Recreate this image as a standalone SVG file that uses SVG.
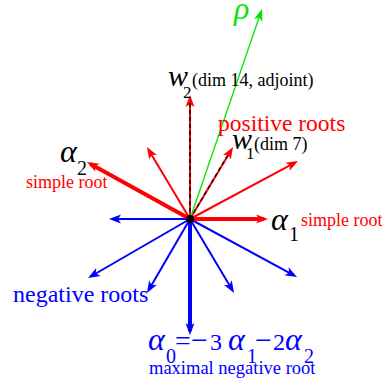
<svg xmlns="http://www.w3.org/2000/svg" width="387" height="382" viewBox="0 0 387 382">
<style>
.r{stroke:#ff0000;fill:none}
.b{stroke:#0000ff;fill:none}
.thin{stroke-width:2}
.thick{stroke-width:4}
.t{font-family:"Liberation Serif","Times New Roman",serif}
.m{font-family:"Liberation Serif","DejaVu Serif","Times New Roman",serif;font-style:italic}
</style>
<defs>
<marker id="ar" markerUnits="userSpaceOnUse" viewBox="-10 -6 16 12" markerWidth="16" markerHeight="12" refX="0" refY="0" orient="auto" overflow="visible"><path d="M4,0 L-8,-4.5 L-5,0 L-8,4.5 Z" fill="#ff0000"/></marker>
<marker id="ab" markerUnits="userSpaceOnUse" viewBox="-10 -6 16 12" markerWidth="16" markerHeight="12" refX="0" refY="0" orient="auto" overflow="visible"><path d="M4,0 L-8,-4.5 L-5,0 L-8,4.5 Z" fill="#0000ff"/></marker>
<marker id="ag" markerUnits="userSpaceOnUse" viewBox="-10 -6 16 12" markerWidth="16" markerHeight="12" refX="0" refY="0" orient="auto" overflow="visible"><path d="M4,0 L-8,-4.5 L-5,0 L-8,4.5 Z" fill="#00e600"/></marker>
</defs>
<g id="connectors">
<g id="negative">
<line class="b thin" x1="190" y1="219" x2="113" y2="219" marker-end="url(#ab)"/>
<line class="b thin" x1="190" y1="219" x2="91.5" y2="276" marker-end="url(#ab)"/>
<line class="b thin" x1="190" y1="219" x2="149" y2="289.5" marker-end="url(#ab)"/>
<line class="b thick" x1="190" y1="219" x2="190" y2="331" marker-end="url(#ab)"/>
<line class="b thin" x1="190" y1="219" x2="232" y2="289.5" marker-end="url(#ab)"/>
<line class="b thin" x1="190" y1="219" x2="293.5" y2="275.1" marker-end="url(#ab)"/>
</g>
<g id="positive">
<line class="r thick" x1="190" y1="219" x2="264" y2="219" marker-end="url(#ar)"/>
<line class="r thick" x1="190" y1="219" x2="90.5" y2="163.9" marker-end="url(#ar)"/>
<line class="r thin" x1="190" y1="219" x2="149" y2="150.4" marker-end="url(#ar)"/>
<line class="r thin" x1="190" y1="219" x2="190" y2="99" marker-end="url(#ar)"/>
<line class="r thin" x1="190" y1="219" x2="231" y2="150.4" marker-end="url(#ar)"/>
<line class="r thin" x1="190" y1="219" x2="294.5" y2="162.9" marker-end="url(#ar)"/>
</g>
<g id="weights" stroke="#000" stroke-width="1.3" stroke-dasharray="4,3" fill="none">
<line x1="190" y1="219" x2="190" y2="101"/>
<line x1="190" y1="219" x2="229" y2="153"/>
</g>
<line id="rho-arrow" x1="190" y1="219" x2="260.7" y2="12.8" stroke="#00e600" stroke-width="1.3" marker-end="url(#ag)"/>
</g>
<g id="origin"><circle cx="190" cy="219" r="4" fill="#000"/></g>
<g id="rho"><text class="m" x="234" y="19" font-size="32" fill="#00e600">ρ</text></g>
<g id="w2"><text class="m" x="168" y="86" font-size="30" fill="#000">w</text><text class="t" x="183" y="98" font-size="17" fill="#000">2</text><text class="t" x="192" y="86" font-size="18" fill="#000">(dim 14, adjoint)</text></g>
<g id="positive-label"><text class="t" x="218" y="131" font-size="23.5" fill="#ff0000">positive roots</text></g>
<g id="w1"><text class="m" x="232" y="149" font-size="30" fill="#000">w</text><text class="t" x="246" y="159" font-size="17" fill="#000">1</text><text class="t" x="254" y="150" font-size="18" fill="#000">(dim 7)</text></g>
<g id="alpha2"><text class="m" x="60" y="162" font-size="32" fill="#000">α</text><text class="t" x="77" y="175" font-size="20" fill="#000">2</text><text class="t" x="26" y="188" font-size="18" fill="#ff0000">simple root</text></g>
<g id="alpha1"><text class="m" x="271" y="230" font-size="32" fill="#000">α</text><text class="t" x="289" y="241" font-size="20" fill="#000">1</text><text class="t" x="301" y="226" font-size="18" fill="#ff0000">simple root</text></g>
<g id="negative-label"><text class="t" x="13" y="302" font-size="24" fill="#0000ff">negative roots</text></g>
<g id="alpha0" fill="#0000ff">
<text class="m" x="148" y="350" font-size="32">α</text>
<text class="t" x="166" y="363" font-size="20">0</text>
<text class="t" x="175" y="350" font-size="28">=</text>
<text class="t" x="191" y="350" font-size="30">−</text>
<text class="t" x="210" y="350" font-size="24">3</text>
<text class="m" x="228" y="350" font-size="32">α</text>
<text class="t" x="247" y="363" font-size="20">1</text>
<text class="t" x="255" y="350" font-size="30">−</text>
<text class="t" x="273" y="350" font-size="24">2</text>
<text class="m" x="285" y="350" font-size="32">α</text>
<text class="t" x="304" y="363" font-size="20">2</text>
<text class="t" x="149" y="374" font-size="18.5">maximal negative root</text>
</g>
</svg>
